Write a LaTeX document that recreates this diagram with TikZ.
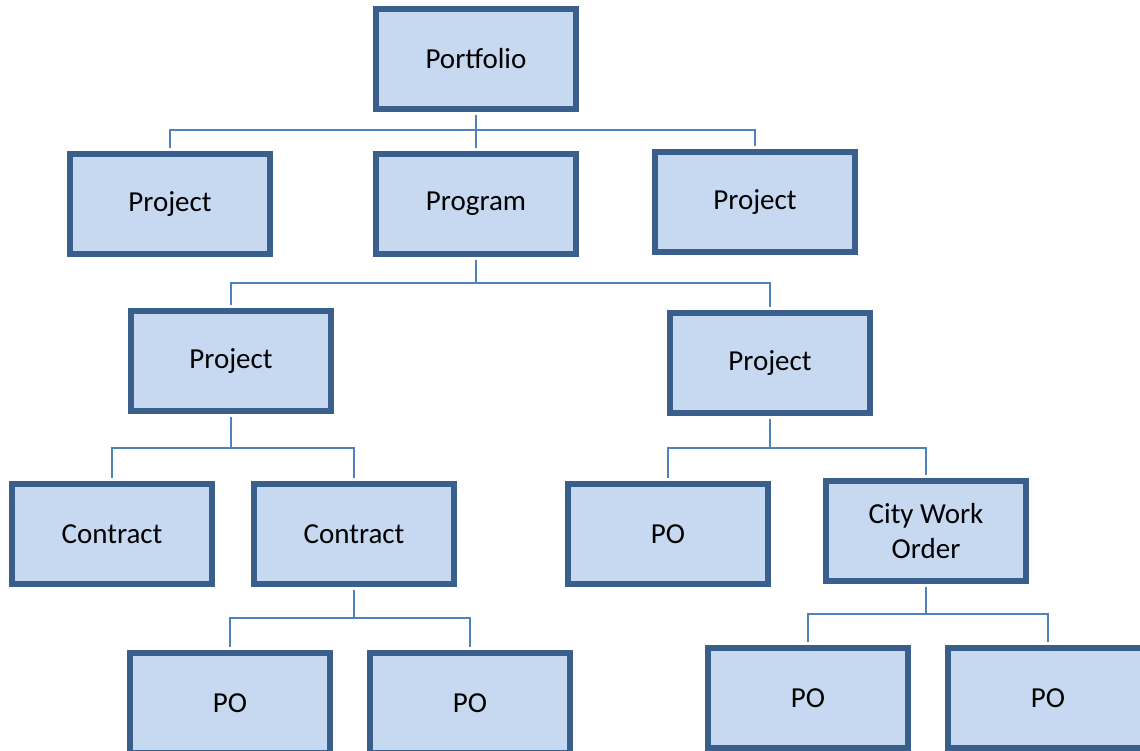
\documentclass[tikz,border=0pt]{standalone}
\usepackage{fontspec}
\setmainfont{Carlito}
\definecolor{boxfill}{HTML}{C6D9F0}
\definecolor{boxline}{HTML}{3A5F8D}
\definecolor{linkline}{HTML}{4F81BD}
\begin{document}
\begin{tikzpicture}[x=1pt,y=-1pt,
  box/.style={draw=boxline,fill=boxfill,line width=6pt,minimum width=200pt,minimum height=100pt,inner sep=0pt,font=\fontsize{29}{35}\selectfont,align=center},
  link/.style={draw=linkline,line width=2pt}]
\useasboundingbox (0,0) rectangle (1140,751);
\clip (0,0) rectangle (1140,751);
\node[box] (portfolio) at (476,59) {Portfolio};
\node[box] (projA) at (170,204) {Project};
\node[box] (program) at (476,204) {Program};
\node[box] (projB) at (755,202) {Project};
\node[box] (projC) at (231,361) {Project};
\node[box] (projD) at (770,363) {Project};
\node[box] (contrA) at (112,534) {Contract};
\node[box] (contrB) at (354,534) {Contract};
\node[box] (poA) at (668,534) {PO};
\node[box] (cwo) at (926,531) {City Work\\Order};
\node[box] (poB) at (230,703) {PO};
\node[box] (poC) at (470,703) {PO};
\node[box] (poD) at (808,698) {PO};
\node[box] (poE) at (1048,698) {PO};
\foreach \p/\c/\y in {portfolio/projA/130,portfolio/program/130,portfolio/projB/130,
  program/projC/283,program/projD/283,
  projC/contrA/448,projC/contrB/448,
  projD/poA/448,projD/cwo/448,
  contrB/poB/618,contrB/poC/618,
  cwo/poD/614,cwo/poE/614}
  \draw[link] ([yshift=-3pt]\p.south) -- (\p.south |- 0,\y) -| ([yshift=3pt]\c.north);
\end{tikzpicture}
\end{document}
